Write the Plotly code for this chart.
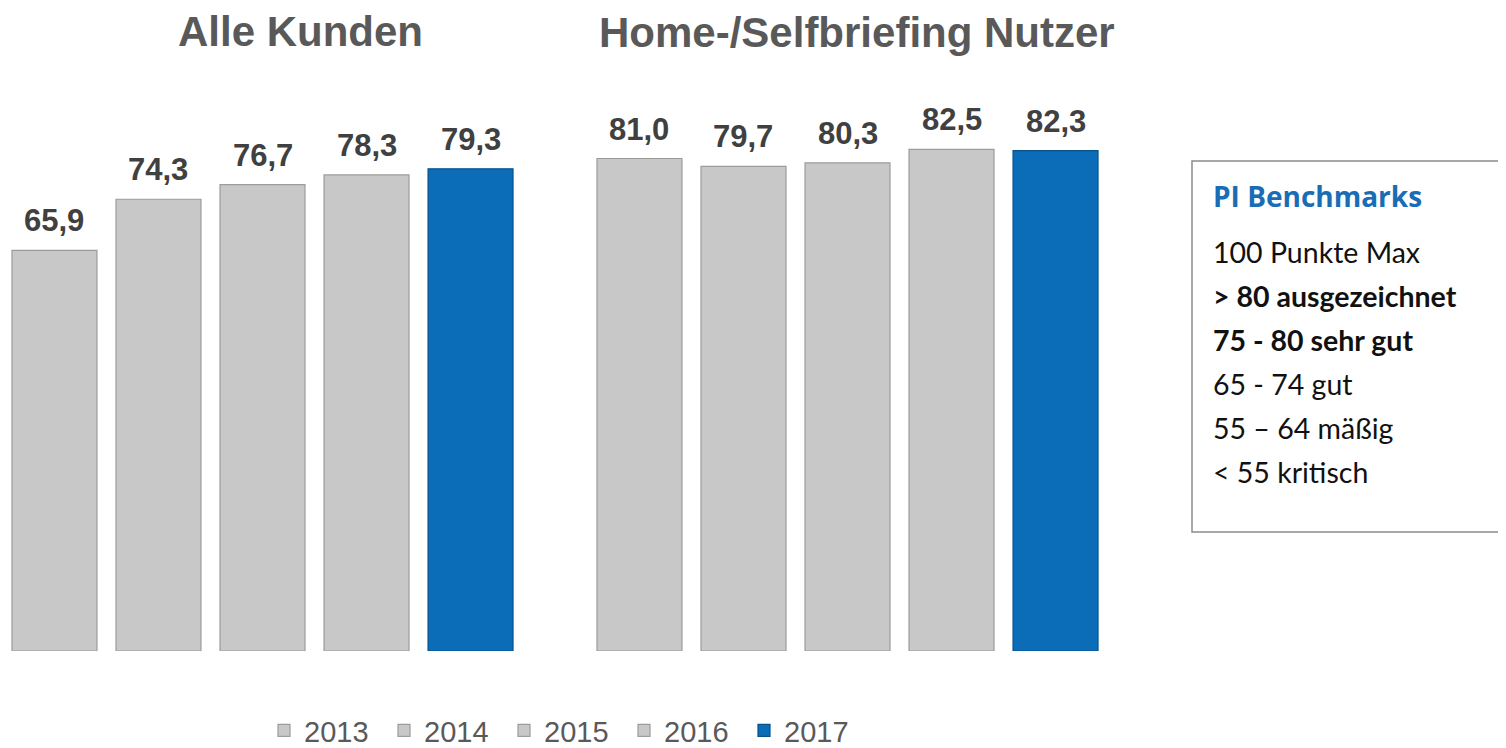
import plotly.graph_objects as go

# ---- data ----
groups = ["Alle Kunden", "Home-/Selfbriefing Nutzer"]
years = ["2013", "2014", "2015", "2016", "2017"]
alle_kunden = [65.9, 74.3, 76.7, 78.3, 79.3]
home_self = [81.0, 79.7, 80.3, 82.5, 82.3]
bench_title = "PI Benchmarks"
bench_lines = ["100 Punkte Max", "<b>> 80 ausgezeichnet</b>", "<b>75 - 80 sehr gut</b>",
               "65 - 74 gut", "55 – 64 mäßig", "< 55 kritisch"]

# ---- style ----
W, H = 1506, 748
OFF = 8  # page body margin of the rendered html
GRAY = "#c8c8c8"
GRAY_LINE = "#9c9c9c"
BLUE = "#0b6db7"
BLUE_LINE = "#08528c"
TXT = "#404040"
TITLE = "#595959"


def fx(px):
    return (px - OFF) / W


def fy(py):
    return 1 - (py - OFF) / H


cat_px = 585
x_dom_px = 1170
first_center_px = 262.5 - OFF
x_lo = -first_center_px / cat_px
x_range = [x_lo, x_lo + x_dom_px / cat_px]
bargap = 0.111
bargroupgap = 0.183
base_px = 651
top_px = 43


def fmt(v):
    return f"{v:.1f}".replace(".", ",")


fig = go.Figure()
n = len(years)
for i, yr in enumerate(years):
    last = i == n - 1
    fig.add_trace(go.Bar(
        name=yr, x=groups, y=[alle_kunden[i], home_self[i]],
        marker=dict(color=BLUE if last else GRAY,
                    line=dict(color=BLUE_LINE if last else GRAY_LINE, width=1.2)),
        hoverinfo="skip",
    ))

# value labels, positioned over each bar via the bar slot geometry
slot_px = cat_px * (1 - bargap) / n
for i in range(n):
    for g, vals in zip(groups, [alle_kunden, home_self]):
        fig.add_annotation(x=g, y=vals[i], xref="x", yref="y", text=f"<b>{fmt(vals[i])}</b>",
                           showarrow=False, yanchor="bottom", xshift=(i - (n - 1) / 2) * slot_px,
                           yshift=10, font=dict(family="Liberation Sans, Arial", size=31, color=TXT))

# group titles
fig.add_annotation(x=fx(300), y=fy(31), xref="paper", yref="paper", text="<b>Alle Kunden</b>",
                   showarrow=False, xanchor="center", yanchor="middle",
                   font=dict(family="Liberation Sans, Arial", size=42, color=TITLE))
fig.add_annotation(x=fx(857), y=fy(32), xref="paper", yref="paper",
                   text="<b>Home-/Selfbriefing Nutzer</b>",
                   showarrow=False, xanchor="center", yanchor="middle",
                   font=dict(family="Liberation Sans, Arial", size=42, color=TITLE))

# benchmark box
fig.add_shape(type="rect", xref="paper", yref="paper", x0=fx(1192), x1=1.01,
              y0=fy(532), y1=fy(161), line=dict(color="#8c8c8c", width=1.5),
              fillcolor="rgba(0,0,0,0)")
fig.add_annotation(x=fx(1211), y=fy(196), xref="paper", yref="paper",
                   text=f"<b>{bench_title}</b>", showarrow=False, xanchor="left", yanchor="middle",
                   font=dict(family="Open Sans", size=28, color="#1a6db5"))
for k, line in enumerate(bench_lines):
    fig.add_annotation(x=fx(1211), y=fy(252 + 44 * k), xref="paper", yref="paper",
                       text=line, showarrow=False, xanchor="left", yanchor="middle",
                       font=dict(family="Lato, Open Sans", size=28.5, color="#111111"))

fig.update_layout(
    width=W, height=H,
    margin=dict(l=0, r=0, t=0, b=0),
    paper_bgcolor="white", plot_bgcolor="white",
    barmode="group", bargap=bargap, bargroupgap=bargroupgap,
    xaxis=dict(domain=[0, x_dom_px / W], range=x_range, showticklabels=False,
               showgrid=False, zeroline=False, showline=False, ticks="", fixedrange=True),
    yaxis=dict(domain=[fy(base_px), fy(top_px)], range=[0, 100], showticklabels=False,
               showgrid=False, zeroline=False, showline=False, ticks="", fixedrange=True),
    legend=dict(orientation="h", x=fx(264), xanchor="left", y=0, yanchor="bottom",
                entrywidth=75, entrywidthmode="pixels", traceorder="normal",
                font=dict(family="Liberation Sans, Arial", size=29, color=TITLE),
                bgcolor="rgba(0,0,0,0)"),
    showlegend=True,
)

fig.write_html("out.html")
